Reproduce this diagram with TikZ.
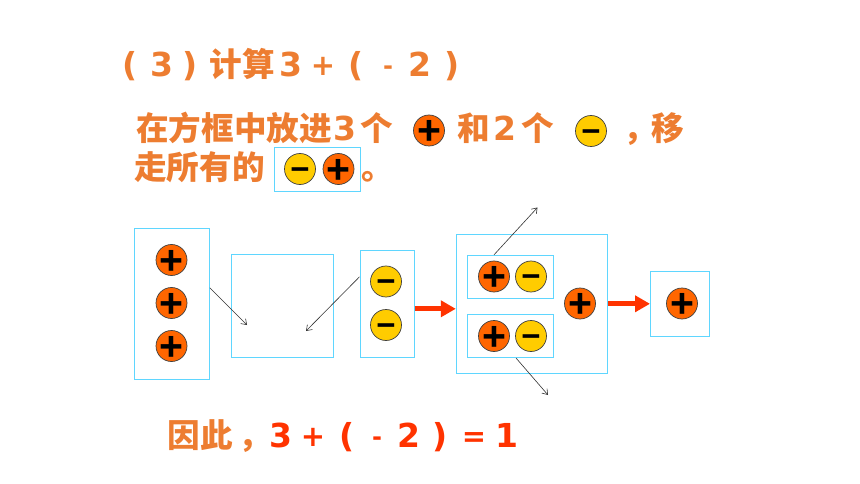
\documentclass[tikz,border=0pt]{standalone}
\usepackage{fontspec}
\setmainfont{DejaVu Sans}
\newfontfamily\cjk{Noto Sans CJK SC}
\newfontfamily\signfont{Liberation Sans}
\usetikzlibrary{arrows.meta}
\definecolor{boxblue}{HTML}{5FD6FF}
\definecolor{wordorange}{HTML}{ED7D31}
\definecolor{resultred}{HTML}{FF3300}
\definecolor{ballorange}{HTML}{FF6600}
\definecolor{ballyellow}{HTML}{FFCC00}
\newcommand{\signmark}[1]{\smash{\raisebox{-.345em}{\signfont\bfseries #1}}}
\tikzset{
    x=1pt,y=-1pt,
    word/.style={anchor=base,inner sep=0pt,text=wordorange,font=\cjk\bfseries\fontsize{32.6}{32.6}\selectfont},
    digit/.style={anchor=base,inner sep=0pt,text=wordorange,font=\bfseries\fontsize{33}{33}\selectfont},
    opsign/.style={digit,font=\bfseries\fontsize{29}{29}\selectfont},
    dashsign/.style={digit,font=\bfseries\fontsize{24}{24}\selectfont},
    result/.style={digit,text=resultred},
    box/.style={draw=boxblue,line width=1pt,inner sep=0pt},
    ball/.style={circle,draw=black!75,line width=0.7pt,inner sep=0pt,minimum size=31pt,text=black},
    plusball/.style={ball,fill=ballorange,font=\fontsize{41}{41}\selectfont},
    minusball/.style={ball,fill=ballyellow,font=\fontsize{33}{33}\selectfont},
    thinarrow/.style={draw=black!80,line width=0.6pt,-{Straight Barb[length=5pt,width=7pt]}},
    redarrow/.style={draw=resultred,line width=5pt,-{Triangle[length=15pt,width=16pt]}}
}
\begin{document}
\begin{tikzpicture}
    \useasboundingbox (0,0) rectangle (860,484);
    %Title
    \foreach \tx/\tc [count=\ti] in {130/{(},162/3,190/{)},291/3,356/{(},420/2,452/{)}}
        \node[digit] (title\ti) at (\tx,77) {\tc};
    \node[opsign] (titleplus) at (323,76) {+};
    \node[dashsign] (titledash) at (388,75) {-};
    \node[word] (titleword) at (242.5,77) {计算};
    %Instruction
    \node[word] (firstA) at (234,141) {在方框中放进};
    \node[digit] (firstB) at (345,141) {3};
    \node[word] (firstC) at (377,141) {个};
    \node[word] (firstD) at (474,141) {和};
    \node[digit] (firstE) at (505,141) {2};
    \node[word] (firstF) at (538,141) {个};
    \node[word] (firstG) at (640,141) {，};
    \node[word] (firstH) at (668,141) {移};
    \node[word] (secondA) at (199.5,180) {走所有的};
    \node[word] (secondB) at (378,180) {。};
    \node[plusball] (textplus) at (429,130.5) {\signmark{+}};
    \node[minusball] (textminus) at (591,131) {\signmark{−}};
    \node[box,minimum width=86pt,minimum height=43.5pt] (pairbox) at (317,169.5) {};
    \node[minusball] (pairminus) at (300,169) {\signmark{−}};
    \node[plusball] (pairplus) at (338.5,169) {\signmark{+}};
    %Three plus
    \node[box,minimum width=75pt,minimum height=151pt] (boxA) at (171.8,303.8) {};
    \foreach \py [count=\pi] in {260,303,346}
        \node[plusball] (plusA\pi) at (171.5,\py) {\signmark{+}};
    %Empty box
    \node[box,minimum width=102pt,minimum height=102.5pt] (boxB) at (282,306.2) {};
    %Two minus
    \node[box,minimum width=54pt,minimum height=107.5pt] (boxC) at (387,303.8) {};
    \foreach \py [count=\pi] in {281.5,325}
        \node[minusball] (minusC\pi) at (386,\py) {\signmark{−}};
    %Moved in
    \coordinate (tipA) at (247,325);
    \coordinate (tipC) at (306,331);
    \draw[thinarrow] ([yshift=16pt]boxA.east) -- (tipA);
    \draw[thinarrow] ([yshift=27pt]boxC.west) -- (tipC);
    %Large box
    \node[box,minimum width=151pt,minimum height=139pt] (boxD) at (531.8,303.8) {};
    \node[box,minimum width=86.3pt,minimum height=43.2pt] (pairA) at (510.5,276.9) {};
    \node[box,minimum width=86.3pt,minimum height=43.2pt] (pairB) at (510.5,335.9) {};
    \node[plusball] (plusD1) at (494,276.5) {\signmark{+}};
    \node[minusball] (minusD1) at (531,276.5) {\signmark{−}};
    \node[plusball] (plusD2) at (494,336) {\signmark{+}};
    \node[minusball] (minusD2) at (531,336) {\signmark{−}};
    \node[plusball] (plusD3) at (580,303.5) {\signmark{+}};
    %Taken out
    \coordinate (tipUp) at (537.5,207.5);
    \coordinate (tipDown) at (548,395);
    \draw[thinarrow] ([xshift=-16.5pt]pairA.north) -- (tipUp);
    \draw[thinarrow] ([xshift=5.5pt]pairB.south) -- (tipDown);
    %Last box
    \node[box,minimum width=59pt,minimum height=65pt] (boxE) at (680,303.8) {};
    \node[plusball] (plusE) at (682,303.5) {\signmark{+}};
    %Steps
    \draw[redarrow] ([yshift=-5pt]boxC.east) -- ([yshift=-5pt]boxD.west);
    \draw[redarrow] (boxD.east) -- (boxE.west);
    %Result
    \node[word] (endword) at (200.5,447) {因此};
    \node[word] (endcomma) at (255,447) {，};
    \foreach \rx/\rc [count=\ri] in {281/3,347/{(},409/2,440/{)},507/1}
        \node[result] (end\ri) at (\rx,447) {\rc};
    \node[opsign,text=resultred] (endplus) at (313,446) {+};
    \node[dashsign,text=resultred] (enddash) at (377,445) {-};
    \node[opsign,text=resultred] (endequal) at (474,446) {=};
\end{tikzpicture}
\end{document}
